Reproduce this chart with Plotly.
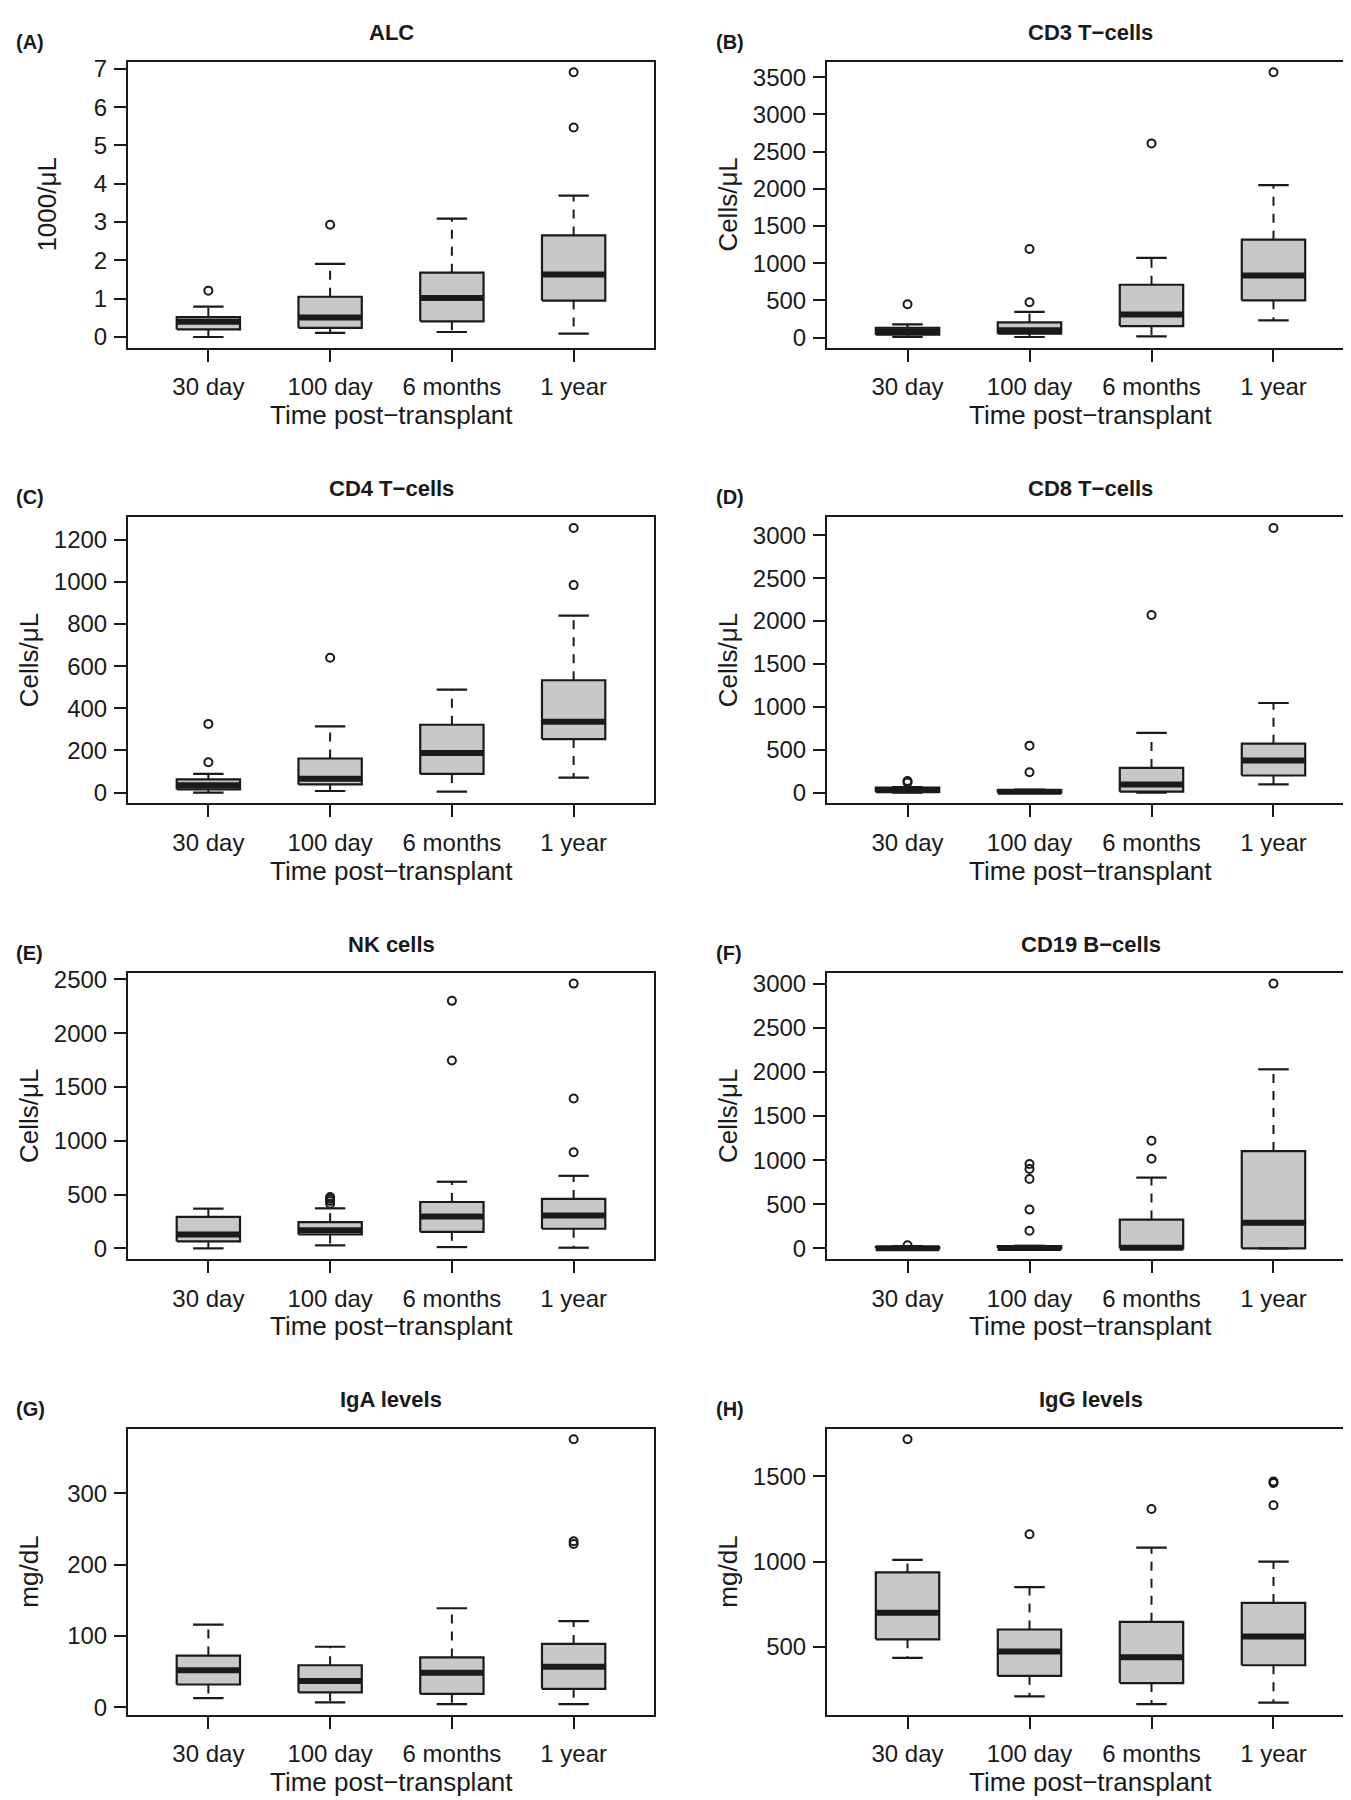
import plotly.graph_objects as go

# Time points on the x axis
timepoints = ['30 day', '100 day', '6 months', '1 year']

# Panel labels, titles and y-axis units
letters = ['(A)', '(B)', '(C)', '(D)', '(E)', '(F)', '(G)', '(H)']
titles = ['ALC', 'CD3 T−cells', 'CD4 T−cells', 'CD8 T−cells',
          'NK cells', 'CD19 B−cells', 'IgA levels', 'IgG levels']
units = ['1000/μL', 'Cells/μL', 'Cells/μL', 'Cells/μL',
         'Cells/μL', 'Cells/μL', 'mg/dL', 'mg/dL']
tick_steps = [1, 500, 200, 500, 500, 500, 100, 500]

# Box statistics: lower whisker, Q1, median, Q3, upper whisker, outliers
alc_low = [0.0, 0.11, 0.13, 0.09]
alc_q1 = [0.2, 0.24, 0.41, 0.95]
alc_med = [0.4, 0.51, 1.02, 1.63]
alc_q3 = [0.52, 1.05, 1.68, 2.65]
alc_high = [0.79, 1.91, 3.09, 3.69]
alc_out = [[1.21], [2.93], [], [5.47, 6.91]]

cd3_low = [9, 9, 18, 231]
cd3_q1 = [40, 53, 156, 502]
cd3_med = [85, 98, 311, 836]
cd3_q3 = [133, 205, 711, 1316]
cd3_high = [178, 347, 1072, 2050]
cd3_out = [[449], [476, 1192], [2610], [3566]]

cd4_low = [0, 8, 5, 71]
cd4_q1 = [16, 39, 89, 254]
cd4_med = [35, 66, 188, 336]
cd4_q3 = [63, 162, 322, 533]
cd4_high = [89, 314, 489, 839]
cd4_out = [[144, 326], [640], [], [984, 1255]]

cd8_low = [0, 0, 0, 96]
cd8_q1 = [8, 0, 12, 200]
cd8_med = [27, 12, 96, 374]
cd8_q3 = [58, 31, 289, 571]
cd8_high = [66, 35, 698, 1045]
cd8_out = [[120, 135], [239, 548], [2071], [3085]]

nk_low = [0, 28, 12, 6]
nk_q1 = [65, 129, 154, 182]
nk_med = [129, 169, 296, 305]
nk_q3 = [292, 243, 431, 459]
nk_high = [369, 372, 619, 674]
nk_out = [[], [415, 440, 460, 478], [1746, 2300], [893, 1392, 2460]]

cd19_low = [0, 0, 0, 0]
cd19_q1 = [0, 0, 0, 0]
cd19_med = [2, 4, 8, 289]
cd19_q3 = [15, 26, 326, 1102]
cd19_high = [26, 30, 802, 2029]
cd19_out = [[34], [199, 439, 787, 900, 956], [1016, 1219], [3000]]

iga_low = [13, 7, 4.6, 4.6]
iga_q1 = [32, 21, 19, 26]
iga_med = [52, 37, 48.5, 57]
iga_q3 = [72.6, 59, 70, 89]
iga_high = [116, 85, 139, 121]
iga_out = [[], [], [], [229, 233, 376]]

igg_low = [434, 208, 163, 171]
igg_q1 = [543, 329, 286, 391]
igg_med = [700, 471, 438, 560]
igg_q3 = [936, 601, 646, 757]
igg_high = [1010, 850, 1082, 1000]
igg_out = [[1718], [1160], [1309], [1331, 1461, 1470]]

panel_data = [
    (alc_low, alc_q1, alc_med, alc_q3, alc_high, alc_out),
    (cd3_low, cd3_q1, cd3_med, cd3_q3, cd3_high, cd3_out),
    (cd4_low, cd4_q1, cd4_med, cd4_q3, cd4_high, cd4_out),
    (cd8_low, cd8_q1, cd8_med, cd8_q3, cd8_high, cd8_out),
    (nk_low, nk_q1, nk_med, nk_q3, nk_high, nk_out),
    (cd19_low, cd19_q1, cd19_med, cd19_q3, cd19_high, cd19_out),
    (iga_low, iga_q1, iga_med, iga_q3, iga_high, iga_out),
    (igg_low, igg_q1, igg_med, igg_q3, igg_high, igg_out),
]

# Page layout (pixels)
W, H = 1351, 1800
col_x = [(120, 646), (819, 1346)]
row_top = [47, 506, 965, 1424]
frame_h = 288
ylab_offset = [81, 99, 99, 99, 99, 99, 99, 99]
letter_x = [6, 706]

FONT = 'Liberation Sans, Arial, sans-serif'
INK = '#1a1a1a'
BOX_HALF = 0.26
STAPLE_HALF = 0.125

fig = go.Figure()
annotations = []
layout_axes = {}

for k, (lo, q1, md, q3, hi, out) in enumerate(panel_data):
    r, c = divmod(k, 2)
    suffix = '' if k == 0 else str(k + 1)
    xa, ya = 'x' + suffix, 'y' + suffix
    pos = [1, 2, 3, 4]
    common = dict(xaxis=xa, yaxis=ya, showlegend=False, hoverinfo='skip')

    # Dashed whiskers
    wx, wy = [], []
    for i, p in enumerate(pos):
        wx += [p, p, None, p, p, None]
        wy += [q3[i], hi[i], None, q1[i], lo[i], None]
    fig.add_trace(go.Scatter(x=wx, y=wy, mode='lines',
                             line=dict(color=INK, width=2, dash='9px,8px'), **common))

    # Boxes
    bx, by = [], []
    for i, p in enumerate(pos):
        bx += [p - BOX_HALF, p + BOX_HALF, p + BOX_HALF, p - BOX_HALF, p - BOX_HALF, None]
        by += [q1[i], q1[i], q3[i], q3[i], q1[i], None]
    fig.add_trace(go.Scatter(x=bx, y=by, mode='lines', fill='toself', fillcolor='#c8c8c8',
                             line=dict(color=INK, width=2.2), **common))

    # Staples
    sx, sy = [], []
    for i, p in enumerate(pos):
        sx += [p - STAPLE_HALF, p + STAPLE_HALF, None, p - STAPLE_HALF, p + STAPLE_HALF, None]
        sy += [hi[i], hi[i], None, lo[i], lo[i], None]
    fig.add_trace(go.Scatter(x=sx, y=sy, mode='lines', line=dict(color=INK, width=2.2), **common))

    # Medians
    mx, my = [], []
    for i, p in enumerate(pos):
        mx += [p - BOX_HALF, p + BOX_HALF, None]
        my += [md[i], md[i], None]
    fig.add_trace(go.Scatter(x=mx, y=my, mode='lines', line=dict(color=INK, width=6), **common))

    # Outliers
    ox, oy = [], []
    for i, p in enumerate(pos):
        ox += [p] * len(out[i])
        oy += out[i]
    fig.add_trace(go.Scatter(x=ox, y=oy, mode='markers',
                             marker=dict(symbol='circle-open', size=8, color=INK,
                                         line=dict(width=2, color=INK)), **common))

    # R-style axis ranges (4% padding)
    allv = lo + hi + [v for g in out for v in g]
    vmin, vmax = min(allv), max(allv)
    pad = 0.04 * (vmax - vmin)

    x0, x1 = col_x[c]
    top = row_top[r]
    bottom = top + frame_h
    axis_style = dict(showline=True, mirror=True, linecolor=INK, linewidth=2,
                      ticks='outside', ticklen=12, tickwidth=2, tickcolor=INK,
                      showgrid=False, zeroline=False,
                      tickfont=dict(family=FONT, size=24, color=INK))
    layout_axes['xaxis' + suffix] = dict(
        domain=[x0 / W, x1 / W], anchor=ya, range=[0.34, 4.66],
        tickmode='array', tickvals=pos, ticktext=timepoints,
        ticklabelstandoff=5, **axis_style)
    layout_axes['yaxis' + suffix] = dict(
        domain=[1 - bottom / H, 1 - top / H], anchor=xa,
        range=[vmin - pad, vmax + pad],
        tickmode='linear', tick0=0, dtick=tick_steps[k], tickformat='d',
        ticklabelstandoff=2, **axis_style)

    xc = (x0 + x1) / 2
    annotations.append(dict(text='<b>' + titles[k] + '</b>', x=xc / W, y=1 - (top - 29) / H,
                            xref='paper', yref='paper', xanchor='center', yanchor='middle',
                            showarrow=False, font=dict(family=FONT, size=22, color=INK)))
    annotations.append(dict(text='<b>' + letters[k] + '</b>', x=letter_x[c] / W, y=1 - (top - 20) / H,
                            xref='paper', yref='paper', xanchor='left', yanchor='middle',
                            showarrow=False, font=dict(family=FONT, size=20, color=INK)))
    annotations.append(dict(text='Time post−transplant', x=xc / W, y=1 - (bottom + 68) / H,
                            xref='paper', yref='paper', xanchor='center', yanchor='middle',
                            showarrow=False, font=dict(family=FONT, size=26, color=INK)))
    annotations.append(dict(text=units[k], x=(x0 - ylab_offset[k]) / W, y=1 - (top + frame_h / 2) / H,
                            xref='paper', yref='paper', xanchor='center', yanchor='middle',
                            textangle=-90, showarrow=False,
                            font=dict(family=FONT, size=26, color=INK)))

fig.update_layout(width=W, height=H, margin=dict(l=0, r=0, t=0, b=0),
                  paper_bgcolor='white', plot_bgcolor='white',
                  annotations=annotations, **layout_axes)

fig.write_html("out.html")
